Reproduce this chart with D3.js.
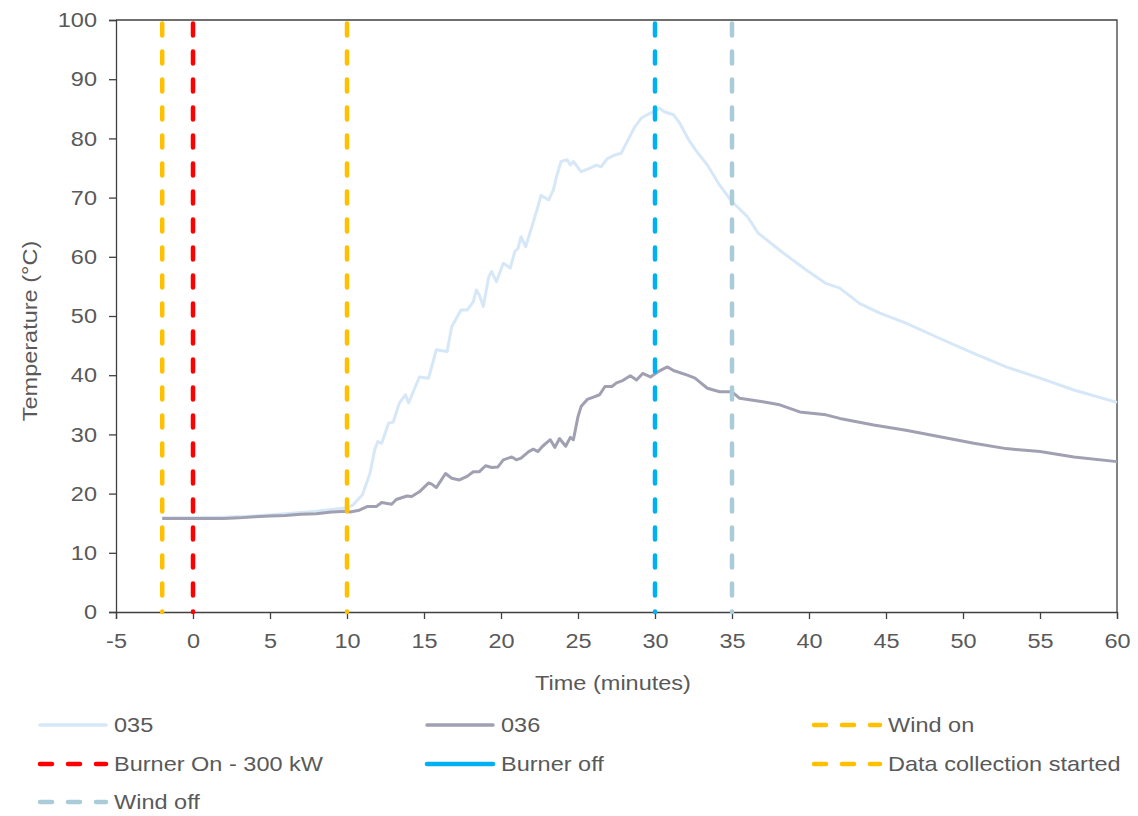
<!DOCTYPE html>
<html>
<head>
<meta charset="utf-8">
<script src="https://cdn.jsdelivr.net/npm/d3@7"></script>
<style>
  html, body { margin: 0; padding: 0; background: #fff; }
  text { font-family: "Liberation Sans", Arial, sans-serif; fill: #595959; }
</style>
</head>
<body>
<svg id="chart" width="1138" height="816"></svg>
<script>
// ---------- data ----------
const t035 = [-2, 0, 2, 4, 6, 8, 9, 10, 10.4, 11.0, 11.5, 11.8, 12.0, 12.25, 12.7, 13.0, 13.4, 13.8, 14.0, 14.7, 15.3, 15.8, 16.5, 16.8, 17.4, 17.8, 18.2, 18.4, 18.6, 18.85, 19.2, 19.4, 19.7, 20.15, 20.6, 20.9, 21.1, 21.3, 21.6, 22.1, 22.4, 22.6, 23.1, 23.4, 23.6, 23.9, 24.3, 24.5, 24.7, 25.2, 25.7, 26.2, 26.5, 26.9, 27.4, 27.8, 28.3, 28.7, 29.1, 29.5, 29.9, 30.3, 30.6, 31.2, 31.6, 32.2, 32.7, 33.4, 34.2, 35.0, 36.0, 36.7, 38.1, 39.8, 41.1, 42.0, 43.3, 44.6, 46.3, 48.5, 50.7, 52.8, 55.0, 57.2, 60.0];
const v035 = [15.9, 15.9, 16.0, 16.2, 16.6, 17.0, 17.3, 17.6, 18.1, 19.8, 23.5, 27.4, 28.8, 28.5, 31.9, 32.1, 35.3, 36.7, 35.3, 39.7, 39.5, 44.3, 44.0, 48.2, 51.0, 51.0, 52.4, 54.4, 53.5, 51.6, 56.6, 57.5, 55.8, 58.9, 58.1, 60.9, 61.4, 63.4, 61.7, 65.9, 68.5, 70.4, 69.6, 71.3, 73.5, 76.1, 76.4, 75.5, 76.1, 74.4, 74.9, 75.5, 75.2, 76.6, 77.2, 77.5, 80.0, 82.0, 83.4, 84.0, 84.5, 85.1, 84.5, 84.0, 82.6, 79.7, 77.8, 75.5, 72.1, 69.3, 66.8, 64.0, 61.1, 57.8, 55.5, 54.7, 52.1, 50.5, 48.8, 46.2, 43.7, 41.4, 39.5, 37.5, 35.4];
const t036 = [-2, 0, 2, 3, 4, 5, 6, 7, 8, 9, 10, 10.2, 10.8, 11.3, 11.9, 12.25, 12.9, 13.2, 13.9, 14.2, 14.7, 15.3, 15.5, 15.8, 16.4, 16.8, 17.3, 17.8, 18.2, 18.6, 19.0, 19.4, 19.8, 20.15, 20.7, 21.0, 21.3, 21.8, 22.1, 22.4, 22.7, 23.2, 23.5, 23.8, 24.2, 24.5, 24.7, 25.0, 25.2, 25.6, 26.0, 26.4, 26.75, 27.2, 27.5, 27.9, 28.4, 28.8, 29.2, 29.7, 30.2, 30.8, 31.2, 32.1, 32.6, 33.4, 34.2, 35.0, 35.5, 37.0, 38.1, 39.4, 41.1, 42.0, 44.2, 46.3, 48.5, 50.7, 52.8, 55.0, 57.2, 60.0];
const v036 = [15.8, 15.8, 15.8, 15.9, 16.1, 16.2, 16.3, 16.5, 16.6, 16.9, 17.0, 16.9, 17.2, 17.8, 17.8, 18.5, 18.2, 19.0, 19.6, 19.5, 20.3, 21.8, 21.6, 21.0, 23.4, 22.6, 22.3, 22.9, 23.7, 23.7, 24.7, 24.4, 24.5, 25.7, 26.2, 25.7, 26.0, 27.1, 27.5, 27.1, 28.0, 29.1, 27.8, 29.3, 28.0, 29.5, 29.1, 33.0, 34.7, 35.9, 36.3, 36.7, 38.1, 38.1, 38.7, 39.1, 39.9, 39.2, 40.3, 39.7, 40.6, 41.4, 40.8, 40.0, 39.5, 37.8, 37.2, 37.2, 36.1, 35.5, 35.0, 33.8, 33.3, 32.7, 31.6, 30.7, 29.6, 28.5, 27.6, 27.1, 26.2, 25.4];

const eventNames = ["Wind on", "Burner On - 300 kW", "Burner off", "Data collection started", "Wind off"];
const eventTimes = [10, 0, 30, -2, 35];

const xTicks = [-5, 0, 5, 10, 15, 20, 25, 30, 35, 40, 45, 50, 55, 60];
const yTicks = [0, 10, 20, 30, 40, 50, 60, 70, 80, 90, 100];

const legendNames = ["035", "036", "Wind on", "Burner On - 300 kW", "Burner off", "Data collection started", "Wind off"];

// ---------- styles ----------
const seriesColors = { "035": "#D6E8F7", "036": "#A0A0B2" };
const eventColors = ["#FFC000", "#FF0000", "#00B0F0", "#FFC000", "#A9CCD8"];
const SX = 1.12; // horizontal text stretch
const FS = 21;

const svg = d3.select("#chart");
const m = { left: 116, right: 1117, top: 20, bottom: 612 };

const x = d3.scaleLinear().domain([-5, 60]).range([m.left, m.right]);
const y = d3.scaleLinear().domain([0, 100]).range([m.bottom, m.top]);

// plot border (top & right)
svg.append("path")
  .attr("d", `M${m.left},${m.top}H${m.right}V${m.bottom}`)
  .attr("fill", "none").attr("stroke", "#404040").attr("stroke-width", 1.3);

// axes
const fmt = d => String(d);
const yAxis = svg.append("g").attr("transform", `translate(${m.left},0)`)
  .call(d3.axisLeft(y).tickValues(yTicks).tickSize(7).tickPadding(12).tickFormat(fmt));
const xAxis = svg.append("g").attr("transform", `translate(0,${m.bottom})`)
  .call(d3.axisBottom(x).tickValues(xTicks).tickSize(7).tickPadding(14).tickFormat(fmt));
[yAxis, xAxis].forEach(g => {
  g.select(".domain").attr("stroke", "#404040").attr("stroke-width", 1.3);
  g.selectAll(".tick line").attr("stroke", "#404040").attr("stroke-width", 1.3);
  g.selectAll(".tick text").attr("font-size", FS).attr("fill", "#595959")
    .attr("font-family", "Liberation Sans, Arial, sans-serif");
});
yAxis.selectAll(".tick text").attr("transform", `scale(${SX},1)`).attr("x", -19 / SX);
xAxis.selectAll(".tick text").attr("transform", `scale(${SX},1)`);

// axis titles
svg.append("g").attr("transform", `translate(30,331) rotate(-90)`)
  .append("text").attr("text-anchor", "middle").attr("dy", "0.35em")
  .attr("font-size", FS).attr("transform", `scale(${SX},1)`).text("Temperature (°C)");
svg.append("g").attr("transform", `translate(613,683)`)
  .append("text").attr("text-anchor", "middle").attr("dy", "0.35em")
  .attr("font-size", FS).attr("transform", `scale(${SX},1)`).text("Time (minutes)");

// series
const line = d3.line().x(d => x(d[0])).y(d => y(d[1]));
const s035 = t035.map((t, i) => [t, v035[i]]);
const s036 = t036.map((t, i) => [t, v036[i]]);
svg.append("path").datum(s035).attr("d", line)
  .attr("fill", "none").attr("stroke", seriesColors["035"]).attr("stroke-width", 3).attr("stroke-linejoin", "round");
svg.append("path").datum(s036).attr("d", line)
  .attr("fill", "none").attr("stroke", seriesColors["036"]).attr("stroke-width", 3).attr("stroke-linejoin", "round");

// event lines
eventTimes.forEach((t, i) => {
  svg.append("line")
    .attr("x1", x(t)).attr("x2", x(t)).attr("y1", y(100)).attr("y2", y(0))
    .attr("stroke", eventColors[i]).attr("stroke-width", 4.5)
    .attr("stroke-linecap", "round")
    .attr("stroke-dasharray", "12,16").attr("stroke-dashoffset", 24.5);
});

// legend
const legItems = [
  { name: legendNames[0], color: seriesColors["035"], dash: null, w: 3.5 },
  { name: legendNames[1], color: seriesColors["036"], dash: null, w: 3.5 },
  { name: legendNames[2], color: eventColors[0], dash: "12,16", w: 4.5 },
  { name: legendNames[3], color: eventColors[1], dash: "12,16", w: 4.5 },
  { name: legendNames[4], color: eventColors[2], dash: null, w: 4.5 },
  { name: legendNames[5], color: eventColors[3], dash: "12,16", w: 4.5 },
  { name: legendNames[6], color: eventColors[4], dash: "12,16", w: 4.5 }
];
const colX = [38, 425, 812];
const rowY = [725, 764, 802];
legItems.forEach((it, i) => {
  const g = svg.append("g").attr("transform", `translate(${colX[i % 3]},${rowY[Math.floor(i / 3)]})`);
  const ln = g.append("line").attr("x1", 2).attr("x2", 68).attr("y1", 0).attr("y2", 0)
    .attr("stroke", it.color).attr("stroke-width", it.w).attr("stroke-linecap", "round");
  if (it.dash) ln.attr("stroke-dasharray", it.dash);
  g.append("g").attr("transform", "translate(76,0)")
    .append("text").attr("dy", "0.35em").attr("font-size", FS)
    .attr("transform", `scale(${SX},1)`).text(it.name);
});
</script>
</body>
</html>
